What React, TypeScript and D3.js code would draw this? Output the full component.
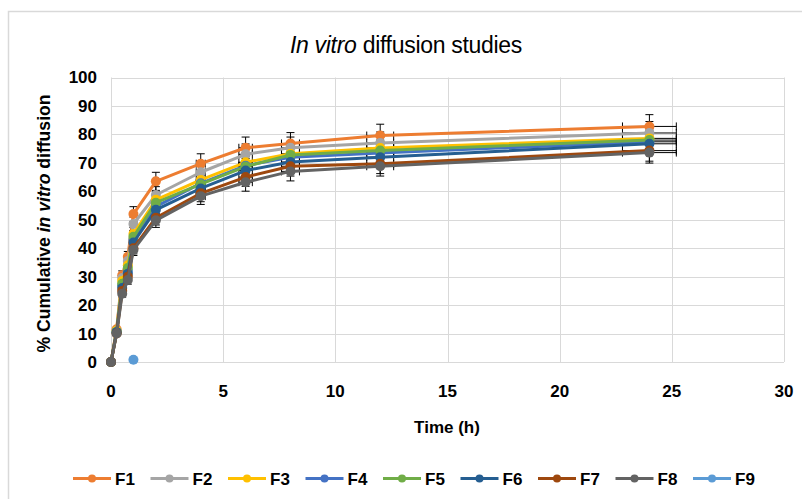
import React from 'react';
import * as d3 from 'd3';

const times = [0, 0.25, 0.5, 0.75, 1, 2, 4, 6, 8, 12, 24];
const seriesNames = ['F1', 'F2', 'F3', 'F4', 'F5', 'F6', 'F7', 'F8', 'F9'];
const f1 = [0, 11.5, 30.5, 37, 52, 63.5, 69.7, 75.3, 76.8, 79.6, 82.8];
const f2 = [0, 11, 29.5, 35.5, 48.5, 58.7, 66.7, 73, 75.3, 77.0, 80.5];
const f3 = [0, 11, 28.5, 34, 45, 57, 64, 70.2, 73.2, 75.2, 78.6];
const f4 = [0, 10.5, 27, 32, 43, 54.6, 62.8, 69, 72, 73.5, 77.4];
const f5 = [0, 10.5, 27.5, 33, 44, 56, 62.5, 68.7, 72.8, 74.3, 78.0];
const f6 = [0, 10.5, 26, 31, 42, 53.5, 61, 67.3, 70.3, 72.0, 76.7];
const f7 = [0, 10, 25, 30, 40, 50.7, 59.3, 65, 68.8, 69.7, 74.3];
const f8 = [0, 10, 24, 28.8, 39.4, 49.8, 58.3, 63.2, 67, 68.8, 73.6];
const f9Times = [1];
const f9 = [0.8];
const seriesColors = ['#ED7D31', '#A5A5A5', '#FFC000', '#4472C4', '#70AD47', '#255E91', '#9E480E', '#636363', '#5B9BD5'];
const xTicks = [0, 5, 10, 15, 20, 25, 30];
const yTicks = [0, 10, 20, 30, 40, 50, 60, 70, 80, 90, 100];
const errorPercent = 5;

type Pt = { t: number; v: number };

export default function App() {
  const W = 802;
  const H = 499;
  const x = d3.scaleLinear().domain([0, 30]).range([111, 784]);
  const y = d3.scaleLinear().domain([0, 100]).range([362, 77.5]);

  const valueSets = [f1, f2, f3, f4, f5, f6, f7, f8];
  const series: { name: string; color: string; pts: Pt[] }[] = valueSets.map((vals, i) => ({
    name: seriesNames[i],
    color: seriesColors[i],
    pts: vals.map((v, j) => ({ t: times[j], v })),
  }));
  series.push({
    name: seriesNames[8],
    color: seriesColors[8],
    pts: f9.map((v, j) => ({ t: f9Times[j], v })),
  });

  const line = d3
    .line<Pt>()
    .x((d) => x(d.t))
    .y((d) => y(d.v));

  const font = "'Liberation Sans', Arial, sans-serif";
  const cap = 4;
  const grid = '#D9D9D9';

  const errorBars = series.flatMap((s, si) =>
    s.pts.map((p, pi) => {
      const dy = (p.v * errorPercent) / 100;
      const dx = (p.t * errorPercent) / 100;
      const cx = x(p.t);
      const cy = y(p.v);
      const y0 = y(p.v - dy);
      const y1 = y(p.v + dy);
      const x0 = x(p.t - dx);
      const x1 = x(p.t + dx);
      return (
        <g key={`e${si}-${pi}`} stroke="#000" strokeWidth={1} fill="none">
          <line x1={cx} x2={cx} y1={y0} y2={y1} />
          <line x1={cx - cap} x2={cx + cap} y1={y0} y2={y0} />
          <line x1={cx - cap} x2={cx + cap} y1={y1} y2={y1} />
          <line x1={x0} x2={x1} y1={cy} y2={cy} />
          <line x1={x0} x2={x0} y1={cy - cap} y2={cy + cap} />
          <line x1={x1} x2={x1} y1={cy - cap} y2={cy + cap} />
        </g>
      );
    })
  );

  const legendStart = 73;
  const legendStep = 77.5;
  const legendY = 478.5;

  return (
    <svg
      width={W}
      height={H}
      style={{ position: 'absolute', left: 0, top: 0, background: '#fff' }}
      fontFamily={font}
    >
      <rect x={0} y={0} width={W} height={H} fill="#fff" />
      <path d={`M8.5,${H + 5} V11.5 H${W + 5}`} fill="none" stroke={grid} strokeWidth={1.5} />

      <text x={406} y={53} textAnchor="middle" fontSize={23} fill="#000" letterSpacing={-0.3}>
        <tspan fontStyle="italic">In vitro</tspan>
        <tspan> diffusion studies</tspan>
      </text>

      {yTicks.map((t) => (
        <line key={`gy${t}`} x1={x(0)} x2={x(30)} y1={Math.round(y(t)) + 0.5} y2={Math.round(y(t)) + 0.5} stroke={grid} strokeWidth={1} />
      ))}
      {xTicks.map((t) => (
        <line key={`gx${t}`} x1={Math.round(x(t)) + 0.5} x2={Math.round(x(t)) + 0.5} y1={y(100)} y2={y(0)} stroke={grid} strokeWidth={1} />
      ))}

      {yTicks.map((t) => (
        <text key={`ty${t}`} x={97} y={y(t)} dy="0.35em" textAnchor="end" fontSize={17} fontWeight="bold" fill="#000">
          {t}
        </text>
      ))}
      {xTicks.map((t) => (
        <text key={`tx${t}`} x={x(t)} y={396.5} textAnchor="middle" fontSize={17} fontWeight="bold" fill="#000">
          {t}
        </text>
      ))}

      <text x={447} y={433} textAnchor="middle" fontSize={17} fontWeight="bold" fill="#000">
        Time (h)
      </text>
      <text
        transform="translate(49.5,223.5) rotate(-90)"
        textAnchor="middle"
        fontSize={17.6}
        fontWeight="bold"
        fill="#000"
      >
        <tspan>% Cumulative </tspan>
        <tspan fontStyle="italic">in vitro</tspan>
        <tspan> diffusion</tspan>
      </text>

      {errorBars}

      {series.map((s) => (
        <g key={s.name}>
          {s.pts.length > 1 && (
            <path d={line(s.pts) || ''} fill="none" stroke={s.color} strokeWidth={3} strokeLinejoin="round" />
          )}
          {s.pts.map((p, i) => (
            <circle key={i} cx={x(p.t)} cy={y(p.v)} r={5} fill={s.color} />
          ))}
        </g>
      ))}

      {series.map((s, i) => {
        const lx = legendStart + i * legendStep;
        return (
          <g key={`lg${s.name}`}>
            <line x1={lx} x2={lx + 38} y1={legendY} y2={legendY} stroke={s.color} strokeWidth={3} />
            <circle cx={lx + 19} cy={legendY} r={4} fill={s.color} />
            <text x={lx + 42} y={legendY + 6.5} fontSize={17} fontWeight="bold" fill="#000">
              {s.name}
            </text>
          </g>
        );
      })}
    </svg>
  );
}
